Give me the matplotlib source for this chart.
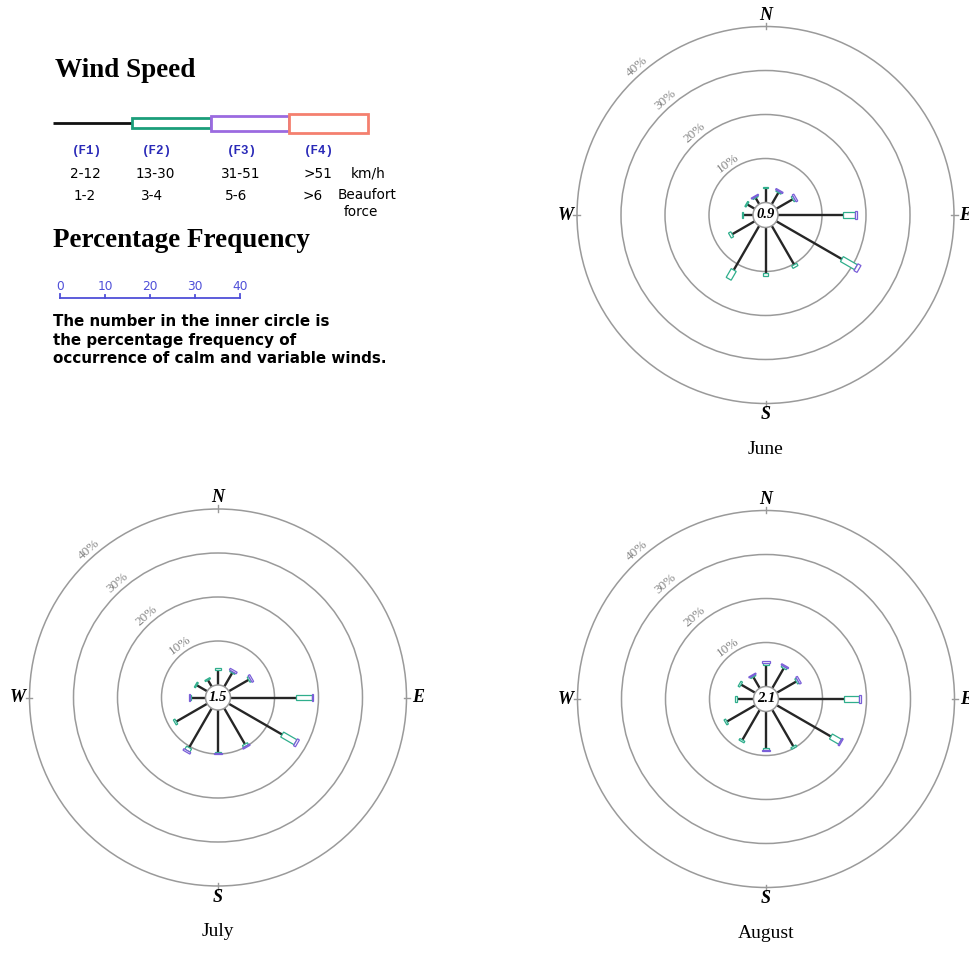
import numpy as np
import matplotlib
matplotlib.use("Agg")
import matplotlib.pyplot as plt
from matplotlib.patches import Polygon, Circle, Rectangle

# ---------------- data ----------------
directions = [0, 30, 60, 90, 120, 150, 180, 210, 240, 270, 300, 330]
speed_classes = ["(F1)", "(F2)", "(F3)", "(F4)"]
kmh_labels = ["2-12", "13-30", "31-51", ">51"]
beaufort_labels = ["1-2", "3-4", "5-6", ">6"]
ring_levels = [10, 20, 30, 40]
scale_ticks = [0, 10, 20, 30, 40]
compass = ["N", "E", "S", "W"]
months = ["June", "July", "August"]
calm = [0.9, 1.5, 2.1]

june_f1 = [3.2, 3.0, 4.3, 14.8, 17.2, 10.2, 10.4, 11.6, 5.9, 2.2, 1.9, 1.6]
june_f2 = [0.3, 0.3, 0.4, 2.8, 3.7, 0.6, 0.6, 2.3, 0.6, 0.3, 0.3, 0.25]
june_f3 = [0.0, 0.3, 0.4, 0.4, 0.8, 0.0, 0.0, 0.0, 0.0, 0.0, 0.0, 0.25]
june_f4 = [0.0] * 12

july_f1 = [3.5, 3.6, 5.2, 15.0, 14.0, 9.4, 9.5, 10.3, 8.1, 3.3, 2.7, 1.7]
july_f2 = [0.4, 0.3, 0.4, 3.5, 3.5, 0.5, 0.3, 0.8, 0.4, 0.2, 0.3, 0.3]
july_f3 = [0.0, 0.4, 0.4, 0.3, 0.5, 0.3, 0.3, 0.4, 0.0, 0.25, 0.0, 0.0]
july_f4 = [0.0] * 12

august_f1 = [5.0, 5.2, 5.1, 14.9, 14.2, 9.6, 8.4, 7.9, 7.4, 3.8, 3.7, 2.9]
august_f2 = [0.4, 0.4, 0.4, 3.5, 2.4, 0.4, 0.3, 0.4, 0.4, 0.4, 0.4, 0.3]
august_f3 = [0.3, 0.3, 0.4, 0.3, 0.3, 0.0, 0.3, 0.0, 0.0, 0.0, 0.0, 0.25]
august_f4 = [0.0] * 12

# ---------------- styling ----------------
W_PX, H_PX, DPI = 969, 958, 100
TEAL = "#1b9e7a"
PURPLE = "#9b6ae0"
SALMON = "#f4806f"
ROSE_TEAL = "#2fae8c"
ROSE_PURPLE = "#7a5fd8"
LINE = "#262626"
RING = "#9a9a9a"
BLUE = "#2a2ab8"
SCALEBLUE = "#4f4fd8"
SERIF = "Liberation Serif"
SANS = "DejaVu Sans"
MONO = "Liberation Mono"

PX_PER_PCT = 4.4
CALM_R = 2.84
L = 47

fig = plt.figure(figsize=(W_PX / DPI, H_PX / DPI), dpi=DPI)
fig.patch.set_facecolor("white")

# ---------------- legend (pixel-coordinate axes) ----------------
bg = fig.add_axes([0, 0, 1, 1])
bg.set_xlim(0, W_PX)
bg.set_ylim(H_PX, 0)
bg.axis("off")

bg.text(55, 70, "Wind Speed", family=SERIF, weight="bold", fontsize=19.5,
        ha="left", va="center")

x0_leg, seg_w, y_leg = 53, 78.8, 123.3
seg_heights = [0, 10, 15.5, 19.6]
seg_colors = [LINE, TEAL, PURPLE, SALMON]
for i in range(len(speed_classes)):
    xa = x0_leg + i * seg_w
    if i == 0:
        bg.plot([xa, xa + seg_w], [y_leg, y_leg], color="#111111", lw=2.0,
                solid_capstyle="butt")
    else:
        h = seg_heights[i]
        bg.add_patch(Rectangle((xa, y_leg - h / 2), seg_w, h, fc="white",
                               ec=seg_colors[i], lw=2.0, zorder=3))

lab_x = [87, 157, 242, 319]
row1_x = [85, 155, 241, 318]
row2_x = [85, 152, 236, 313]
for i, s in enumerate(speed_classes):
    bg.text(lab_x[i], 151, s, family=MONO, weight="bold", fontsize=9,
            color=BLUE, ha="center", va="center")
    bg.text(row1_x[i], 174, kmh_labels[i], family=SANS, fontsize=9.8,
            ha="center", va="center")
    bg.text(row2_x[i], 195.5, beaufort_labels[i], family=SANS, fontsize=9.8,
            ha="center", va="center")
bg.text(368, 173, "km/h", family=SANS, fontsize=9.8, ha="center", va="center")
bg.text(367, 195, "Beaufort", family=SANS, fontsize=9.8, ha="center", va="center")
bg.text(361, 212, "force", family=SANS, fontsize=9.8, ha="center", va="center")

bg.text(53, 240, "Percentage Frequency", family=SERIF, weight="bold",
        fontsize=19.5, ha="left", va="center")

sx0, s_px, sy = 60, 4.5, 298.3
bg.plot([sx0 + s_px * scale_ticks[0], sx0 + s_px * scale_ticks[-1]], [sy, sy],
        color=SCALEBLUE, lw=1.3)
for j, v in enumerate(scale_ticks):
    xs = sx0 + s_px * v
    th = 4.5 if j in (0, len(scale_ticks) - 1) else 3.2
    bg.plot([xs, xs], [sy, sy - th], color=SCALEBLUE, lw=1.3)
    bg.text(xs, 286, str(v), family=SANS, fontsize=8.8, color=SCALEBLUE,
            ha="center", va="center")

note = ["The number in the inner circle is",
        "the percentage frequency of",
        "occurrence of calm and variable winds."]
for k, line in enumerate(note):
    bg.text(53, 321.7 + 18.3 * k, line, family=SANS, fontsize=10.9,
            ha="left", va="center", weight="bold")

# ---------------- wind roses ----------------
def spoke(ax, bearing, segs):
    th = np.deg2rad(bearing)
    u = np.array([np.sin(th), np.cos(th)])
    n = np.array([np.cos(th), -np.sin(th)])
    r = CALM_R
    f1, f2, f3, f4 = segs
    p0, p1 = u * r, u * (r + f1)
    ax.plot([p0[0], p1[0]], [p0[1], p1[1]], color=LINE, lw=1.7,
            solid_capstyle="butt", zorder=2)
    r += f1
    for length, hw, col in [(f2, 0.65, ROSE_TEAL), (f3, 0.9, ROSE_PURPLE),
                            (f4, 1.2, SALMON)]:
        if length > 0:
            pts = [u * r + n * hw, u * (r + length) + n * hw,
                   u * (r + length) - n * hw, u * r - n * hw]
            ax.add_patch(Polygon(pts, closed=True, fc="white", ec=col,
                                 lw=0.9, zorder=3))
            r += length


def rose(cx, cy, month, calm_val, f1, f2, f3, f4):
    half = L * PX_PER_PCT
    ax = fig.add_axes([(cx - half) / W_PX, (H_PX - cy - half) / H_PX,
                       2 * half / W_PX, 2 * half / H_PX])
    ax.set_xlim(-L, L)
    ax.set_ylim(-L, L)
    ax.axis("off")
    for lev in ring_levels:
        ax.add_patch(Circle((0, 0), CALM_R + lev, fc="none", ec=RING, lw=1.1,
                            zorder=1))
        ang = np.deg2rad(126 if lev == 10 else 131)
        rr = CALM_R + lev + 1.8
        ax.text(rr * np.cos(ang), rr * np.sin(ang), f"{lev}%", family=SERIF,
                fontsize=9.5, color="#858585", rotation=np.rad2deg(ang) - 90,
                ha="center", va="center")
    outer = CALM_R + ring_levels[-1]
    for k, c in enumerate(compass):
        b = np.deg2rad(90 * k)
        u = np.array([np.sin(b), np.cos(b)])
        a, bpt = u * (outer - 0.6), u * (outer + 0.8)
        ax.plot([a[0], bpt[0]], [a[1], bpt[1]], color=RING, lw=1.0)
        t = u * 45.4
        ax.text(t[0], t[1], c, family=SERIF, weight="bold", style="italic",
                fontsize=13, ha="center", va="center")
    for i, d in enumerate(directions):
        spoke(ax, d, (f1[i], f2[i], f3[i], f4[i]))
    ax.add_patch(Circle((0, 0), CALM_R, fc="white", ec=RING, lw=1.1, zorder=4))
    ax.text(0, 0, f"{calm_val:.1f}", family=SERIF, weight="bold", style="italic",
            fontsize=10.5, ha="center", va="center", zorder=5)
    ax.text(0, -53.2, month, family=SERIF, fontsize=14,
            ha="center", va="center")
    return ax


rose(765.5, 215, months[0], calm[0], june_f1, june_f2, june_f3, june_f4)
rose(218, 697.5, months[1], calm[1], july_f1, july_f2, july_f3, july_f4)
rose(766, 699, months[2], calm[2], august_f1, august_f2, august_f3, august_f4)

fig.savefig("out.png", dpi=DPI, facecolor="white")
